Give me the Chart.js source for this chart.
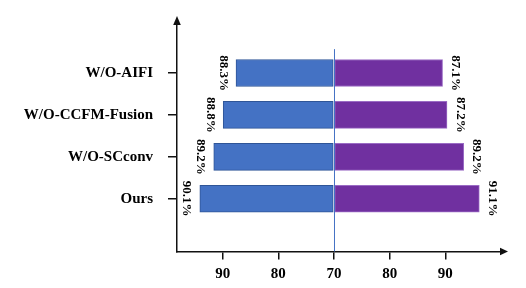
<!DOCTYPE html>
<html>
<head>
<meta charset="utf-8">
<script src="https://cdn.jsdelivr.net/npm/chart.js@4"></script>
<style>
  html, body { margin: 0; padding: 0; background: #fff; }
  #wrap { width: 526px; height: 288px; position: relative; }
</style>
</head>
<body>
<div id="wrap"><canvas id="c"></canvas></div>
<script>
// ============ DATA ============
const categories = ['W/O-AIFI', 'W/O-CCFM-Fusion', 'W/O-SCconv', 'Ours'];
const CENTER = 70;
// bar ends as read on the drawn axis (left side grows leftwards from 70)
const leftEnds  = [87.6, 89.9, 91.6, 94.1];
const rightEnds = [89.5, 90.3, 93.3, 96.1];
// printed percentage labels
const leftLabels  = ['88.3%', '88.8%', '89.2%', '90.1%'];
const rightLabels = ['87.1%', '87.2%', '89.2%', '91.1%'];
// x tick positions (offset from centre) and their printed labels
const xTickVals   = [-20, -10, 0, 10, 20];
const xTickLabels = ['90', '80', '70', '80', '90'];

const SERIF = "'Liberation Serif', 'Times New Roman', serif";

// ============ PLUGINS ============
const decor = {
  id: 'decor',
  afterDatasetsDraw(chart) {
    const { ctx, chartArea: a, scales: { x, y } } = chart;
    ctx.save();
    // centre reference line
    const cx = x.getPixelForValue(0);
    ctx.strokeStyle = '#4472C4';
    ctx.lineWidth = 1;
    ctx.beginPath();
    ctx.moveTo(cx + 0.5, y.getPixelForValue(-0.57));
    ctx.lineTo(cx + 0.5, a.bottom);
    ctx.stroke();

    // percentage labels, rotated
    ctx.fillStyle = '#000';
    ctx.font = 'bold 13px ' + SERIF;
    ctx.textAlign = 'center';
    ctx.textBaseline = 'middle';
    [[0, leftLabels, -13], [1, rightLabels, 13]].forEach(([di, labs, off]) => {
      chart.getDatasetMeta(di).data.forEach((bar, i) => {
        ctx.save();
        ctx.translate(bar.x + off, bar.y);
        ctx.rotate(Math.PI / 2);
        ctx.fillText(labs[i], 0, 0);
        ctx.restore();
      });
    });

    // axis arrows
    ctx.fillStyle = '#111';
    ctx.beginPath();
    ctx.moveTo(a.left, a.top - 8);
    ctx.lineTo(a.left - 3.8, a.top + 1);
    ctx.lineTo(a.left + 3.8, a.top + 1);
    ctx.closePath();
    ctx.fill();
    ctx.beginPath();
    ctx.moveTo(a.right + 7, a.bottom);
    ctx.lineTo(a.right - 1, a.bottom - 3.8);
    ctx.lineTo(a.right - 1, a.bottom + 3.8);
    ctx.closePath();
    ctx.fill();
    ctx.restore();
  }
};

// ============ CHART ============
new Chart(document.getElementById('c'), {
  type: 'bar',
  data: {
    datasets: [
      {
        data: leftEnds.map((v, i) => ({ x: -(v - CENTER), y: i })),
        backgroundColor: '#4472C4',
        borderColor: '#2F5597',
        borderWidth: 1,
        borderSkipped: false
      },
      {
        data: rightEnds.map((v, i) => ({ x: v - CENTER, y: i })),
        backgroundColor: '#7030A0',
        borderColor: '#9A6BC4',
        borderWidth: 1,
        borderSkipped: false
      }
    ]
  },
  options: {
    indexAxis: 'y',
    responsive: true,
    maintainAspectRatio: false,
    animation: false,
    datasets: { bar: { grouped: false, barThickness: 27 } },
    layout: { padding: { top: 23, right: 25, bottom: 0, left: 0 } },
    plugins: { legend: { display: false }, tooltip: { enabled: false } },
    scales: {
      x: {
        type: 'linear',
        min: -28.2,
        max: 30,
        afterBuildTicks: s => { s.ticks = xTickVals.map(v => ({ value: v })); },
        grid: { drawOnChartArea: false, color: '#111', lineWidth: 1.5, tickLength: 8 },
        border: { color: '#111', width: 1.5 },
        ticks: {
          color: '#000',
          padding: 6,
          font: { family: SERIF, size: 15, weight: 'bold', lineHeight: 1.1 },
          callback: (v, i) => xTickLabels[i]
        }
      },
      y: {
        type: 'linear',
        reverse: true,
        offset: false,
        min: -1.17,
        max: 4.26,
        afterBuildTicks: s => { s.ticks = categories.map((c, i) => ({ value: i })); },
        afterFit: s => { s.width = 177; },
        grid: { offset: false, drawOnChartArea: false, color: '#111', lineWidth: 1.5, tickLength: 9 },
        border: { color: '#111', width: 1.5 },
        ticks: {
          color: '#000',
          padding: 15,
          font: { family: SERIF, size: 15, weight: 'bold' },
          callback: (v, i) => categories[i]
        }
      }
    }
  },
  plugins: [decor]
});
</script>
</body>
</html>
